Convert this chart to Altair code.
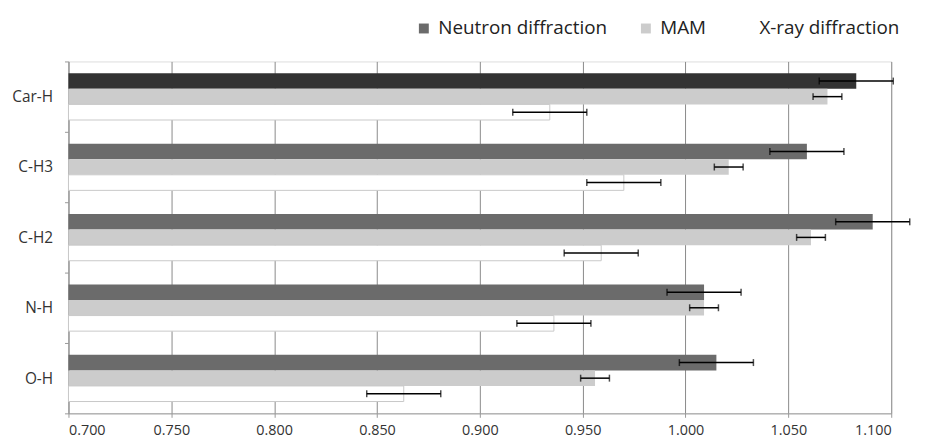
import altair as alt
import pandas as pd

categories = ["Car-H", "C-H3", "C-H2", "N-H", "O-H"]
series = ["Neutron diffraction", "MAM", "X-ray diffraction"]
neutron = [1.083, 1.059, 1.091, 1.009, 1.015]
mam = [1.069, 1.021, 1.061, 1.009, 0.956]
xray = [0.934, 0.970, 0.959, 0.936, 0.863]
neutron_err = [0.018, 0.018, 0.018, 0.018, 0.018]
mam_err = [0.007, 0.007, 0.007, 0.007, 0.007]
xray_err = [0.018, 0.018, 0.018, 0.018, 0.018]
x_ticks = [0.70, 0.75, 0.80, 0.85, 0.90, 0.95, 1.00, 1.05, 1.10]
x_min, x_max = 0.70, 1.10

rows = []
for s, vals, errs in [(series[0], neutron, neutron_err), (series[1], mam, mam_err), (series[2], xray, xray_err)]:
    for c, v, e in zip(categories, vals, errs):
        shade = s
        if s == series[0] and c == "Car-H":
            shade = "Neutron highlight"
        rows.append({"cat": c, "series": s, "shade": shade, "value": v, "lo": v - e, "hi": v + e})
df = pd.DataFrame(rows)

FONT = "Open Sans"

y_enc = alt.Y("cat:N", sort=categories, title=None,
              scale=alt.Scale(paddingInner=0, paddingOuter=0),
              axis=alt.Axis(tickBand="extent", ticks=True, tickSize=4, tickColor="#999999",
                            domainColor="#999999", labelFont=FONT, labelFontSize=15.5,
                            labelColor="#333333", labelPadding=12, grid=False))
yoff = alt.YOffset("series:N", sort=series,
                   scale=alt.Scale(paddingOuter=0.76, paddingInner=0))
x_scale = alt.Scale(domain=[x_min, x_max], nice=False, zero=False)

bars = alt.Chart(df).mark_bar(strokeWidth=1).encode(
    x=alt.X("value:Q", scale=x_scale, title=None,
            axis=alt.Axis(values=x_ticks, format=".3f", grid=True, gridColor="#8a8a8a",
                          gridWidth=1, domainColor="#999999", tickColor="#999999", tickSize=4,
                          labelFont=FONT, labelFontSize=14.5, labelColor="#333333",
                          labelPadding=6)),
    x2=alt.X2(datum=x_min),
    y=y_enc,
    yOffset=yoff,
    color=alt.Color("shade:N",
                    scale=alt.Scale(domain=["Neutron diffraction", "MAM", "X-ray diffraction", "Neutron highlight"],
                                    range=["#6b6b6b", "#cccccc", "#ffffff", "#333333"]),
                    legend=alt.Legend(values=series, title=None, orient="none", direction="horizontal",
                                      legendX=349, legendY=-43, symbolType="square", symbolSize=100,
                                      symbolStrokeWidth=0, labelFont=FONT, labelFontSize=19,
                                      labelColor="#222222", columnPadding=29, labelOffset=5,
                                      labelLimit=400)),
    stroke=alt.condition(alt.datum.series == "X-ray diffraction", alt.value("#c8c8c8"), alt.value(None)),
)

err = alt.Chart(df).mark_rule(color="black", strokeWidth=1.5).encode(
    x=alt.X("lo:Q", scale=x_scale),
    x2="hi:Q",
    y=alt.Y("cat:N", sort=categories),
    yOffset=yoff,
)
caps_lo = alt.Chart(df).mark_tick(color="black", thickness=1.5, size=7).encode(
    x=alt.X("lo:Q", scale=x_scale),
    y=alt.Y("cat:N", sort=categories),
    yOffset=yoff,
)
caps_hi = alt.Chart(df).mark_tick(color="black", thickness=1.5, size=7).encode(
    x=alt.X("hi:Q", scale=x_scale),
    y=alt.Y("cat:N", sort=categories),
    yOffset=yoff,
)

chart = alt.layer(bars, err, caps_lo, caps_hi).properties(
    width=830, height=355,
    autosize=alt.AutoSizeParams(type="none"),
    padding={"left": 61, "top": 52, "right": 26, "bottom": 29},
).configure_view(stroke=None).configure(background="white")

chart.save("out.html", embed_options={"renderer": "svg", "actions": False})
